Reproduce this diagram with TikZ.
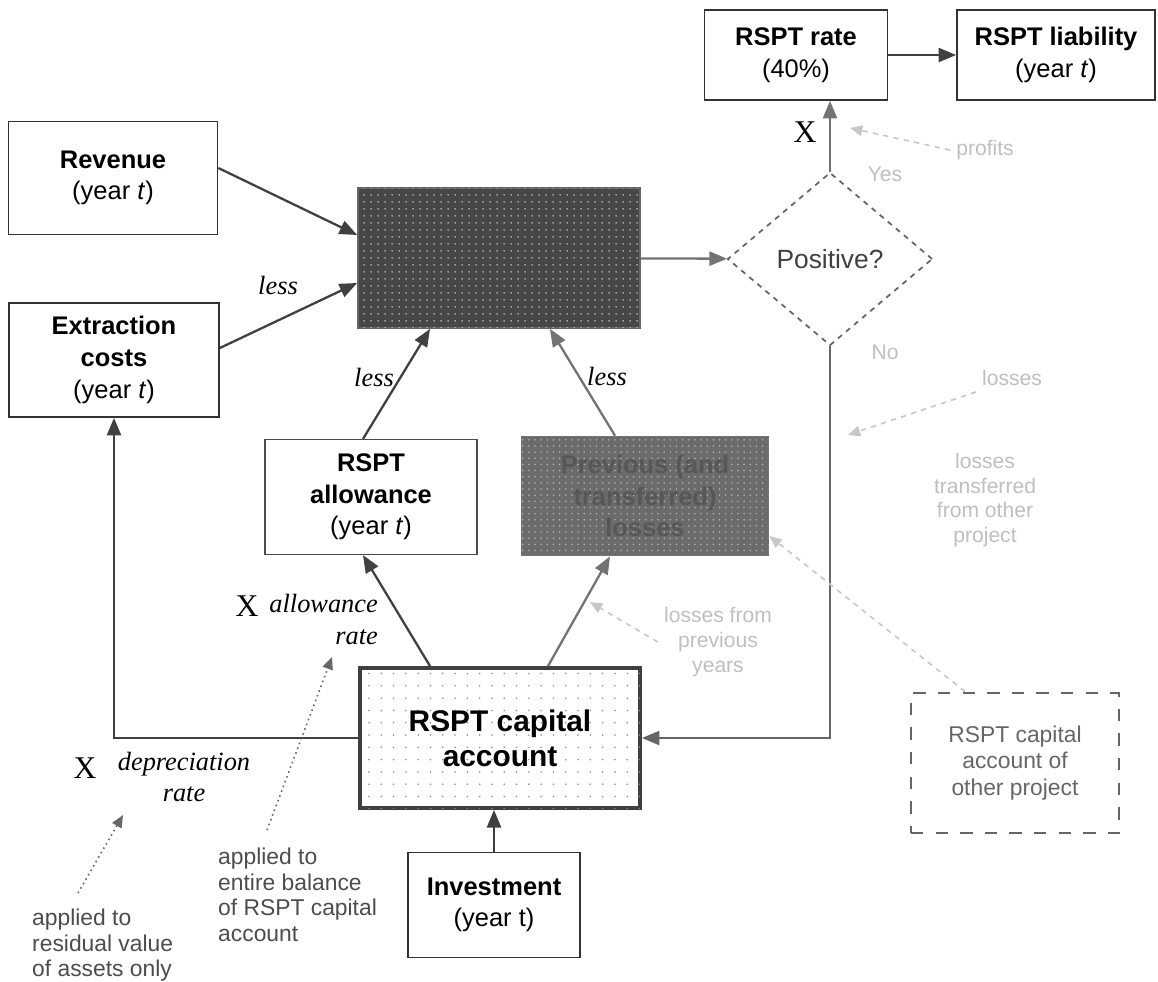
\documentclass[tikz,border=0pt]{standalone}
\usepackage{fontspec}
\setmainfont{Liberation Serif}
\setsansfont{Liberation Sans}
\usetikzlibrary{arrows.meta,shapes.geometric,patterns.meta}

\tikzset{
  box/.style={draw=black!80, line width=1pt, fill=white, align=center, inner sep=2pt,
    font=\sffamily\bfseries\fontsize{14.5}{18}\selectfont},
  link/.style={draw=black!75, line width=1.3pt, -{Triangle[length=10pt,width=8pt]}},
  faint/.style={draw=black!22, dashed, line width=0.9pt, -{Triangle[length=7pt,width=6pt]}},
  hint/.style={draw=black!60, dotted, line width=0.9pt, -{Triangle[length=7pt,width=6pt]}},
  lbl/.style={font=\itshape\fontsize{15}{18}\selectfont},
  times/.style={font=\fontsize{18}{20}\selectfont},
  note/.style={font=\sffamily\fontsize{13}{14.5}\selectfont, text=black!70, align=left},
  ghost/.style={font=\sffamily\fontsize{12}{14}\selectfont, text=black!25, align=center},
}

\begin{document}
\begin{tikzpicture}[x=0.02cm,y=-0.02cm]
\useasboundingbox (0,0) rectangle (1158,981);

% boxes
\node[box, minimum width=3.66cm, minimum height=1.8cm] (rate) at (796,55) {RSPT rate\\{\mdseries (40\%)}};
\node[box, minimum width=3.96cm, minimum height=1.8cm] (liab) at (1056,55) {RSPT liability\\{\mdseries (year \textit{t})}};
\node[box, minimum width=4.18cm, minimum height=2.26cm] (rev) at (113,178) {Revenue\\{\mdseries (year \textit{t})}};
\node[box, minimum width=4.2cm, minimum height=2.28cm] (ext) at (114,360) {Extraction\\costs\\{\mdseries (year \textit{t})}};
\node[box, draw=black!60, fill=black!72, minimum width=5.64cm, minimum height=2.8cm,
  postaction={pattern={Dots[distance=4pt,radius=0.55pt]}, pattern color=white!75!black}] (prof) at (499,258) {};
\node[shape=diamond, draw=black!60, dashed, line width=1pt, aspect=1.18, minimum width=4.1cm, minimum height=3.46cm,
  inner sep=0pt, font=\sffamily\fontsize{15}{18}\selectfont, text=black!75] (pos) at (830,259) {Positive?};
\node[box, draw=black!70, line width=0.7pt, minimum width=4.24cm, minimum height=2.3cm] (allow) at (371,497) {RSPT\\allowance\\{\mdseries (year \textit{t})}};
\node[box, draw=black!55, fill=black!58, text=black!66, minimum width=4.94cm, minimum height=2.38cm,
  postaction={pattern={Dots[distance=3.5pt,radius=0.5pt]}, pattern color=white!70!black}] (loss) at (645,496) {Previous (and\\transferred)\\losses};
\node[box, draw=black!75, line width=2.2pt, minimum width=5.6cm, minimum height=2.8cm,
  font=\sffamily\bfseries\fontsize{17}{20}\selectfont,
  postaction={pattern={Dots[distance=7pt,radius=0.5pt]}, pattern color=black!45}] (cap) at (500,738) {RSPT capital\\account};
\node[box, minimum width=3.44cm, minimum height=2.1cm] (inv) at (494,905) {Investment\\{\mdseries (year t)}};
\node[box, draw=black!60, line width=1.6pt, dash pattern=on 7pt off 7pt, minimum width=4.16cm, minimum height=2.8cm,
  font=\sffamily\fontsize{13}{15}\selectfont, text=black!60] (other) at (1015,763) {RSPT capital\\account of\\other project};

% connectors
\draw[link] (rate) -- (liab);
\draw[link, draw=black!55] (pos.north) -- (pos.north |- rate.south);
\draw[link] ([yshift=0.2cm]rev.east) -- ([yshift=0.46cm]prof.west);
\draw[link] ([yshift=0.24cm]ext.east) -- ([yshift=-0.5cm]prof.west);
\draw[link] ([xshift=-0.16cm]allow.north) -- ([xshift=-1.38cm]prof.south);
\draw[link, draw=black!55] ([xshift=-0.6cm]loss.north) -- ([xshift=1.02cm]prof.south);
\draw[link, draw=black!55] (prof) -- (pos);
\draw[link] ([xshift=-1.4cm]cap.north) -- ([xshift=-0.16cm]allow.south);
\draw[link, draw=black!55] ([xshift=0.96cm]cap.north) -- ([xshift=-0.7cm]loss.south);
\draw[link] (cap.west) -- (ext.south |- cap.west) -- (ext.south);
\draw[link] (inv) -- (inv |- cap.south);
\draw[link, draw=black!60] (pos.south) -- (pos.south |- cap.east) -- (cap.east);

% labels
\node[lbl] (less1) at (278,285) {less};
\node[lbl] (less2) at (374,377) {less};
\node[lbl] (less3) at (607,376) {less};
\node[times] (x1) at (805,132) {X};
\node[times] (x2) at (247,606) {X};
\node[lbl, align=right, anchor=north east] (arate) at (384,588) {allowance\\rate};
\node[times] (x3) at (85,768) {X};
\node[lbl, align=center] (drate) at (184,777) {depreciation\\rate};

% notes
\node[note, anchor=north west] (n1) at (212,842) {applied to\\entire balance\\of RSPT capital\\account};
\node[note, anchor=north west] (n2) at (26,903) {applied to\\residual value\\of assets only};
\coordinate (t1) at (332,657);
\coordinate (t2) at (123,815);
\draw[hint] (267,830) -- (t1);
\draw[hint] (78,893) -- (t2);

% faint remarks
\node[ghost] (yes) at (885,174) {Yes};
\node[ghost] (no) at (885,352) {No};
\node[ghost] (gprof) at (985,150) {profits};
\node[ghost] (gloss) at (1012,378) {losses};
\node[ghost] (gprev) at (718,642) {losses from\\previous\\years};
\node[ghost] (gtrans) at (985,500) {losses\\transferred\\from other\\project};
\coordinate (f1) at (850,128);
\coordinate (f2) at (848,435);
\coordinate (f3) at (590,602);
\draw[faint] (gprof.west) -- (f1);
\draw[faint] (gloss.south west) -- (f2);
\draw[faint] (gprev.west) -- (f3);
\draw[faint] ([xshift=-1cm]other.north) -- ([yshift=-0.8cm]loss.east);
\end{tikzpicture}
\end{document}
